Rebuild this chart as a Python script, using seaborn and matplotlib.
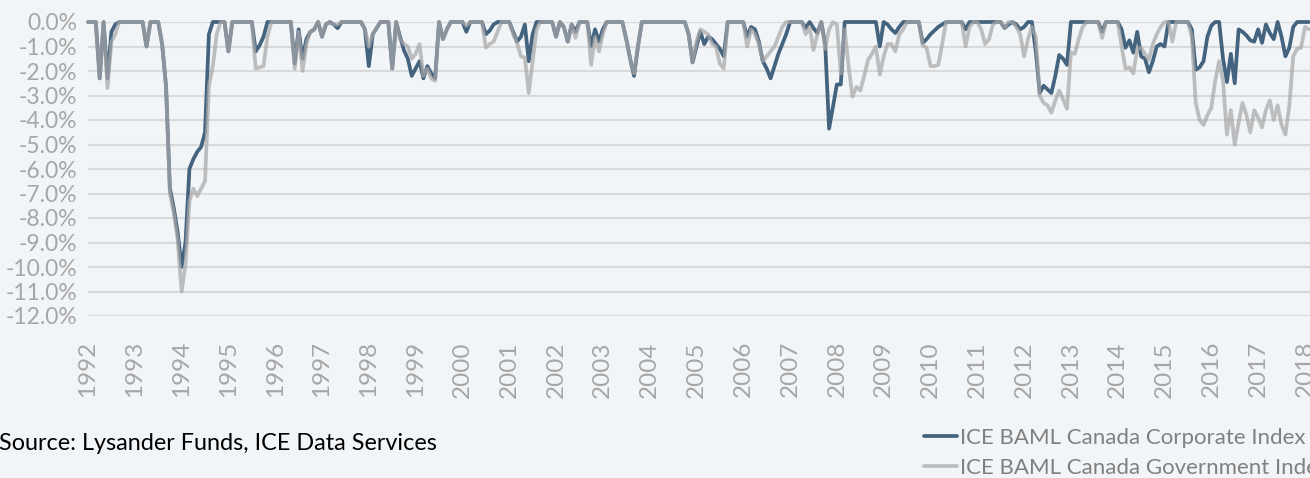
import matplotlib
matplotlib.use("Agg")
import matplotlib.pyplot as plt
import seaborn as sns
import pandas as pd
from matplotlib.lines import Line2D

####################################################################################
## DATA: monthly drawdown (%) Jan 1992 - Feb 2018
####################################################################################
years = [str(y) for y in range(1992, 2019)]

corp = [
    0, 0, 0, -2.3, 0, -2.3, -0.4, -0.1, 0, 0, 0, 0,                       # 1992
    0, 0, 0, -1.0, 0, 0, 0, -0.9, -2.6, -6.8, -7.6, -8.6,                 # 1993
    -10.0, -9.0, -6.0, -5.6, -5.3, -5.1, -4.5, -0.5, 0, 0, 0, 0,          # 1994
    -1.2, 0, 0, 0, 0, 0, 0, -1.2, -0.95, -0.6, 0, 0,                      # 1995
    0, 0, 0, 0, 0, -1.7, -0.3, -1.5, -0.7, -0.4, -0.3, 0,                 # 1996
    -0.6, -0.1, 0, -0.1, -0.25, 0, 0, 0, 0, 0, 0, -0.3,                   # 1997
    -1.8, -0.5, -0.25, 0, 0, 0, -1.9, 0, -0.6, -1.15, -1.5, -2.2,         # 1998
    -1.9, -1.6, -2.3, -1.8, -2.1, -2.3, 0, -0.7, -0.3, 0, 0, 0,           # 1999
    0, -0.4, 0, 0, 0, 0, -0.5, -0.35, -0.1, 0, 0, 0,                      # 2000
    0, -0.4, -0.8, -0.6, -0.1, -1.6, -0.5, 0, 0, 0, 0, 0,                 # 2001
    -0.6, 0, -0.2, -0.8, -0.1, -0.4, 0, 0, 0, -1.0, -0.3, -0.8,           # 2002
    -0.3, 0, 0, 0, 0, 0, -0.7, -1.5, -2.2, -1.0, 0, 0,                    # 2003
    0, 0, 0, 0, 0, 0, 0, 0, 0, 0, -0.5, -1.65,                            # 2004
    -1.0, -0.4, -0.9, -0.6, -0.7, -0.9, -1.1, -1.4, 0, 0, 0, 0,           # 2005
    0, -0.6, -0.2, -0.3, -0.8, -1.6, -1.9, -2.3, -1.8, -1.3, -0.9, -0.5,  # 2006
    0, 0, 0, 0, -0.25, 0, -0.25, -0.45, 0, -0.9, -4.35, -3.45,            # 2007
    -2.55, -2.55, 0, 0, 0, 0, 0, 0, 0, 0, 0, -1.0,                        # 2008
    0, -0.1, -0.3, -0.45, -0.2, 0, 0, 0, 0, 0, -0.85, -0.7,               # 2009
    -0.5, -0.35, -0.2, -0.1, 0, 0, 0, 0, 0, -0.3, 0, 0,                   # 2010
    0, 0, 0, 0, 0, 0, 0, -0.25, -0.1, 0, -0.1, -0.3,                      # 2011
    -0.2, 0, 0, -1.2, -2.9, -2.6, -2.75, -2.9, -2.2, -1.35, -1.5, -1.75,  # 2012
    0, 0, 0, 0, 0, 0, 0, 0, -0.4, 0, 0, 0,                                # 2013
    0, -0.3, -1.05, -0.75, -1.25, -0.4, -1.4, -1.5, -2.05, -1.6, -1.0, -0.9,  # 2014
    -1.0, 0, 0, 0, 0, 0, 0, -0.3, -1.95, -1.85, -1.6, -0.6,               # 2015
    -0.15, 0, 0, -1.5, -2.45, -1.3, -2.5, -0.3, -0.4, -0.55, -0.75, -0.8, # 2016
    -0.3, -0.85, -0.1, -0.45, -0.7, 0, -0.6, -1.4, -1.05, -0.2, 0, 0,     # 2017
    0, 0,                                                                 # 2018
]

gov = [
    0, 0, 0, -2.3, 0, -2.7, -0.8, -0.5, 0, 0, 0, 0,                       # 1992
    0, 0, 0, -1.0, 0, 0, 0, -0.9, -2.6, -7.0, -7.8, -8.9,                 # 1993
    -11.0, -9.9, -7.3, -6.8, -7.1, -6.8, -6.5, -2.6, -1.8, -0.5, 0, 0,    # 1994
    -1.2, 0, 0, 0, 0, 0, 0, -1.9, -1.85, -1.8, -0.6, 0,                   # 1995
    0, 0, 0, 0, 0, -1.9, -0.4, -2.0, -0.9, -0.4, -0.3, 0,                 # 1996
    -0.6, -0.1, 0, -0.1, -0.1, 0, 0, 0, 0, 0, 0, -0.3,                    # 1997
    -1.0, -0.5, -0.25, 0, 0, 0, -1.9, 0, -0.7, -0.9, -1.0, -1.5,          # 1998
    -1.3, -0.9, -2.2, -1.9, -2.3, -2.4, 0, -0.7, -0.3, 0, 0, 0,           # 1999
    0, -0.15, 0, 0, 0, 0, -1.05, -0.9, -0.8, -0.4, 0, 0,                  # 2000
    0, -0.5, -0.85, -1.4, -1.45, -2.9, -1.6, -0.3, 0, 0, 0, 0,            # 2001
    -0.6, 0, -0.2, -0.8, -0.1, -0.65, 0, 0, 0, -1.75, -0.6, -1.2,         # 2002
    -0.5, 0, 0, 0, 0, 0, -0.7, -1.5, -2.1, -1.0, 0, 0,                    # 2003
    0, 0, 0, 0, 0, 0, 0, 0, 0, 0, -0.5, -1.65,                            # 2004
    -0.8, -0.3, -0.4, -0.5, -0.9, -1.0, -1.7, -1.9, 0, 0, 0, 0,           # 2005
    0, -1.0, -0.3, -0.5, -0.9, -1.6, -1.4, -1.2, -1.0, -0.6, -0.2, 0,     # 2006
    0, 0, 0, 0, -0.5, -0.2, -1.15, -0.5, 0, -1.1, -0.3, 0,                # 2007
    -0.1, -2.1, -0.3, -1.8, -3.05, -2.65, -2.8, -2.2, -1.55, -1.3, -1.0, -2.15,  # 2008
    -1.4, -0.9, -0.9, -1.2, -0.5, -0.3, 0, 0, 0, 0, -0.95, -1.05,         # 2009
    -1.8, -1.8, -1.75, -0.9, 0, 0, 0, 0, 0, -1.0, -0.2, 0,                # 2010
    0, -0.3, -0.9, -0.7, -0.1, 0, 0, -0.25, 0, 0, -0.2, -0.5,             # 2011
    -1.4, -0.7, -0.2, -0.6, -3.0, -3.3, -3.4, -3.7, -3.2, -2.8, -3.15, -3.55,  # 2012
    -1.25, -1.3, -0.7, -0.2, 0, 0, 0, 0, -0.65, 0, 0, 0,                  # 2013
    0, -1.0, -1.9, -1.85, -2.1, -1.1, -1.05, -1.3, -1.55, -0.9, -0.5, -0.2,  # 2014
    0, 0, -0.8, 0, 0, 0, 0, -0.6, -3.3, -4.0, -4.2, -3.8,                 # 2015
    -3.5, -2.4, -1.6, -2.4, -4.6, -3.6, -5.0, -4.1, -3.3, -3.8, -4.5, -3.6,  # 2016
    -3.9, -4.3, -3.6, -3.2, -4.0, -3.4, -4.2, -4.6, -3.4, -1.4, -1.1, -1.05,  # 2017
    -0.2, -0.3,                                                           # 2018
]

corp_label = "ICE BAML Canada Corporate Index"
gov_label = "ICE BAML Canada Government Index"
source = "Source: Lysander Funds, ICE Data Services"

months = pd.period_range("1992-01", periods=len(corp), freq="M")
df = pd.DataFrame({"pos": range(len(months)), "corp": corp, "gov": gov})

####################################################################################
## Viz
####################################################################################
bg = "#f2f5f8"
blue = "#44637e"
grey = "#a8a8a8"
tick_grey = "#a6a6a6"

sns.set_theme(style="white")
plt.rcParams["font.family"] = ["Lato", "DejaVu Sans"]

fig = plt.figure(figsize=(13.1, 4.78), dpi=100, facecolor=bg)
ax = fig.add_axes([88 / 1310, 162 / 478, 1222 / 1310, 294 / 478])
ax.set_facecolor(bg)

sns.lineplot(data=df, x="pos", y="corp", color=blue, lw=2.7, ax=ax, clip_on=False)
sns.lineplot(data=df, x="pos", y="gov", color=grey, alpha=0.72, lw=2.7, ax=ax, clip_on=False)

ax.set_xlim(0, len(corp) - 0.7)
ax.set_ylim(-12, 0)
ax.set_xticks(range(0, len(corp), 12))
ax.set_xticklabels(years, rotation=90, color=tick_grey, fontsize=17.5)
ax.set_yticks(range(-12, 1))
ax.set_yticklabels([f"{v:.1f}%" if v else "0.0%" for v in range(-12, 1)],
                   color=tick_grey, fontsize=16.5)
ax.tick_params(axis="x", length=0, pad=18)
ax.tick_params(axis="y", length=0, pad=8)
ax.yaxis.grid(True, color="#d9d9d9", lw=1.5)
ax.set_axisbelow(True)
ax.set_xlabel("")
ax.set_ylabel("")
for s in ax.spines.values():
    s.set_visible(False)

fig.text(-0.001, 34 / 478, source, ha="left", va="center", fontsize=16.8, color="black")

handles = [Line2D([], [], color=blue, lw=2.7),
           Line2D([], [], color=grey, alpha=0.72, lw=2.7)]
fig.legend(handles, [corp_label, gov_label], loc="upper left",
           bbox_to_anchor=(924 / 1310, 50 / 478), frameon=False, fontsize=16,
           labelcolor="#808080", handlelength=1.5, handletextpad=0.1,
           labelspacing=0.45, borderpad=0, borderaxespad=0)

fig.savefig("out.png", dpi=100, facecolor=bg)
